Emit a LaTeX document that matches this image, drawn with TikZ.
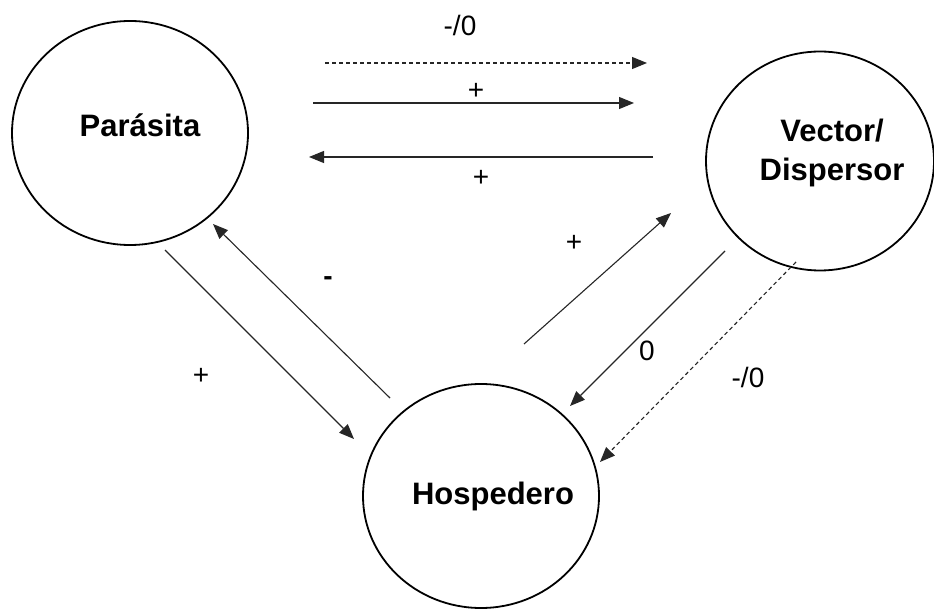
\documentclass[tikz,border=0pt]{standalone}
\usepackage{fontspec}
\setmainfont{Liberation Sans}
\usetikzlibrary{shapes.geometric,arrows.meta}
\begin{document}
\begin{tikzpicture}[x=1pt,y=-1pt,
  bubble/.style={draw=black,line width=1.8pt,ellipse,minimum width=236pt,minimum height=224pt,inner sep=0pt},
  title/.style={font=\fontsize{31}{39}\selectfont\bfseries,align=center,inner sep=0pt},
  lbl/.style={font=\fontsize{28}{32}\selectfont,inner sep=0pt},
  conn/.style={draw=black!85,line width=1.1pt,-{Triangle[length=15pt,width=12pt]}},
  dconn/.style={conn,dash pattern=on 4pt off 3pt}]
\useasboundingbox (0,0) rectangle (934,609);
\fill[white] (0,0) rectangle (934,609);
% circles
\node[bubble] (P) at (130,133) {};
\node[bubble,minimum width=228pt,minimum height=219pt] (V) at (820,161) {};
\node[bubble] (H) at (481,496) {};
% titles
\node[title] (Pt) at (140,125) {Parásita};
\node[title] (Vt) at (832,153) {Vector/\\Dispersor};
\node[title] (Ht) at (493,496) {Hospedero};
% arrow ends
\coordinate (a1s) at (325,63);  \coordinate (a1e) at (647,63);
\coordinate (a2s) at (313,103); \coordinate (a2e) at (634,103);
\coordinate (a3s) at (653,157); \coordinate (a3e) at (309,157);
\coordinate (a4s) at (165,250); \coordinate (a4e) at (354,439);
\coordinate (a5s) at (390,398); \coordinate (a5e) at (213,224);
\coordinate (a6s) at (524,344); \coordinate (a6e) at (671,213);
\coordinate (a7s) at (725,251); \coordinate (a7e) at (570,406);
\coordinate (a8s) at (796,262); \coordinate (a8e) at (600,462);
% connectors
\draw[dconn] (a1s) -- (a1e);
\draw[conn] (a2s) -- (a2e);
\draw[conn] (a3s) -- (a3e);
\draw[conn] (a4s) -- (a4e);
\draw[conn] (a5s) -- (a5e);
\draw[conn] (a6s) -- (a6e);
\draw[conn] (a7s) -- (a7e);
\draw[dconn] (a8s) -- (a8e);
% labels
\node[lbl] (l1) at (460,25) {-/0};
\node[lbl] (l2) at (476,91) {+};
\node[lbl] (l3) at (481,178) {+};
\node[lbl] (l4) at (201,376) {+};
\node[lbl,font=\fontsize{28}{32}\selectfont\bfseries] (l5) at (328,281) {-};
\node[lbl] (l6) at (574,243) {+};
\node[lbl] (l7) at (647,351) {0};
\node[lbl] (l8) at (748,377) {-/0};
\end{tikzpicture}
\end{document}
